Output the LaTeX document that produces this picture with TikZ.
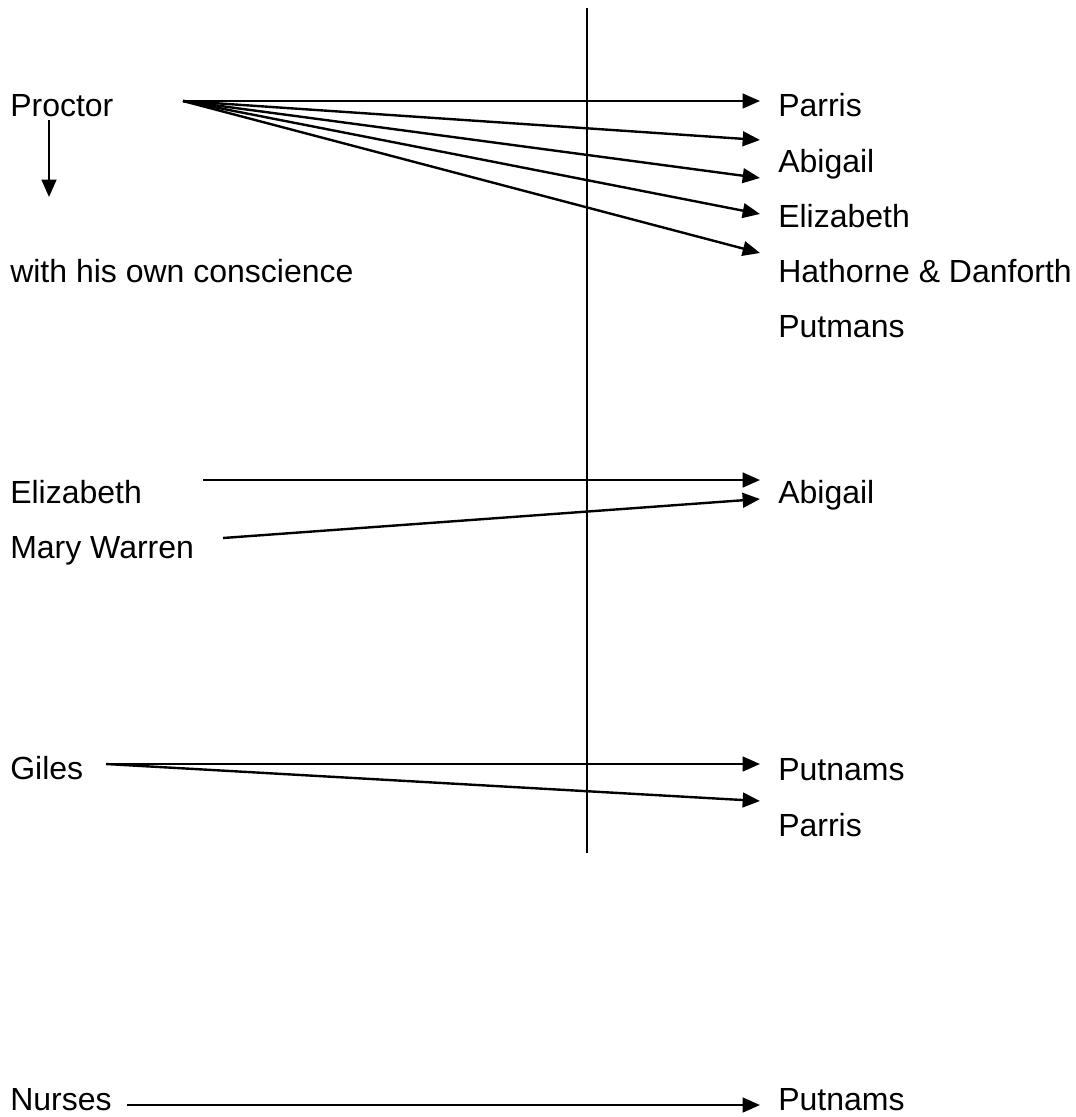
\documentclass[tikz,border=0pt]{standalone}
\usepackage{fontspec}
\setmainfont{Liberation Sans}
\usetikzlibrary{arrows.meta}
\begin{document}
\begin{tikzpicture}[x=0.75pt,y=-0.75pt,
  lbl/.style={anchor=base west,inner sep=0pt,font=\fontsize{24}{28}\selectfont},
  arr/.style={line width=1.8pt,-{Triangle[length=13pt,width=11pt]}},
  plain/.style={line width=1.2pt}]
\useasboundingbox (0,0) rectangle (1075,1117);
\draw[plain] (587,8) -- (587,853);
% left labels
\node[lbl] (proctor) at (10,116) {Proctor};
\node[lbl] (consc) at (10,282) {with his own conscience};
\node[lbl] (elizL) at (10,503) {Elizabeth};
\node[lbl] (mary) at (10,558) {Mary Warren};
\node[lbl] (giles) at (10,779) {Giles};
\node[lbl] (nurses) at (10,1110) {Nurses};
% right labels
\node[lbl] (parris1) at (778,116) {Parris};
\node[lbl] (abig1) at (778,172) {Abigail};
\node[lbl] (eliz1) at (778,227) {Elizabeth};
\node[lbl] (hath) at (778,282) {Hathorne \& Danforth};
\node[lbl] (putm) at (778,337) {Putmans};
\node[lbl] (abig2) at (778,503) {Abigail};
\node[lbl] (putn1) at (778,780) {Putnams};
\node[lbl] (parris2) at (778,836) {Parris};
\node[lbl] (putn2) at (778,1110) {Putnams};
% connector end points
\coordinate (pS) at (183,101);
\coordinate (pD) at (49,120);
\coordinate (pDe) at (49,197);
\coordinate (t1) at (760,101);
\coordinate (t2) at (760,140);
\coordinate (t3) at (760,178);
\coordinate (t4) at (760,214);
\coordinate (t5) at (760,253);
\coordinate (eS) at (203,480);
\coordinate (eT) at (760,480);
\coordinate (mS) at (223,538);
\coordinate (mT) at (760,499);
\coordinate (gS) at (106,764);
\coordinate (gT1) at (760,764);
\coordinate (gT2) at (760,801);
\coordinate (nS) at (127,1105);
\coordinate (nT) at (760,1105);
\draw[arr] (pS) -- (t1);
\draw[arr] (pS) -- (t2);
\draw[arr] (pS) -- (t3);
\draw[arr] (pS) -- (t4);
\draw[arr] (pS) -- (t5);
\draw[arr] (pD) -- (pDe);
\draw[arr] (eS) -- (eT);
\draw[arr] (mS) -- (mT);
\draw[arr] (gS) -- (gT1);
\draw[arr] (gS) -- (gT2);
\draw[arr] (nS) -- (nT);
\end{tikzpicture}
\end{document}
